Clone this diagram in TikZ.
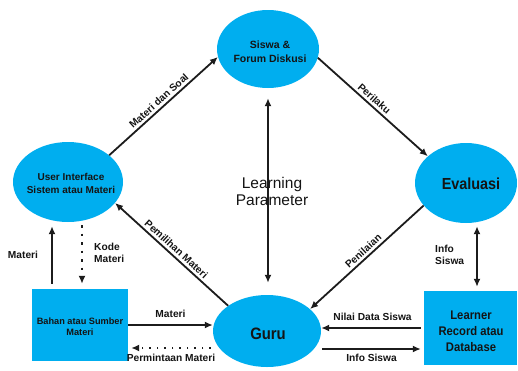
\documentclass[tikz,border=0pt]{standalone}
\usepackage{fontspec}
\setmainfont{Liberation Sans}
\newfontfamily\narf[FakeStretch=0.9]{Liberation Sans}
\usetikzlibrary{shapes.geometric,arrows.meta}
\definecolor{cy}{HTML}{00AEEF}
\definecolor{ln}{HTML}{1C1C1C}
\definecolor{tx}{HTML}{141414}
\tikzset{
  ell/.style={ellipse, fill=cy, inner sep=0pt},
  boxn/.style={rectangle, fill=cy, inner sep=0pt},
  ttl/.style={align=center, text=tx, inner sep=0pt},
  lab/.style={text=tx, font=\bfseries\fontsize{10.2}{12.5}\selectfont, inner sep=1.5pt},
  arr/.style={line width=1.8pt, draw=ln, -{Latex[length=8pt,width=7pt]}},
  darr/.style={line width=1.8pt, draw=ln, {Latex[length=8pt,width=7pt]}-{Latex[length=8pt,width=7pt]}},
  dsh/.style={arr, dash pattern=on 2.5pt off 6pt},
  dotl/.style={arr, dash pattern=on 1.5pt off 6pt},
}
\begin{document}
\begin{tikzpicture}[x=1pt,y=-1pt]
\useasboundingbox (0,0) rectangle (518,370);
% shapes
\node[ell, minimum width=102pt, minimum height=78pt] (siswa) at (268,49) {};
\node[ell, minimum width=110pt, minimum height=80pt] (ui) at (68,182) {};
\node[ell, minimum width=102pt, minimum height=80pt] (eval) at (466,183) {};
\node[ell, minimum width=108pt, minimum height=72pt] (guru) at (267,331) {};
\node[boxn, minimum width=96pt, minimum height=72pt] (bahan) at (80,325) {};
\node[boxn, minimum width=93pt, minimum height=74pt] (learner) at (470.5,328) {};
% texts
\node[ttl, font=\bfseries\fontsize{10.5}{14}\selectfont] (siswat) at (270,52) {Siswa \&\\Forum Diskusi};
\node[ttl, font=\bfseries\fontsize{10}{13}\selectfont] (uit) at (71,183) {User Interface\\Sistem atau Materi};
\node[ttl, font=\narf\bfseries\fontsize{16}{18}\selectfont] (evalt) at (471,184) {Evaluasi};
\node[ttl, font=\narf\bfseries\fontsize{16.5}{18}\selectfont] (gurut) at (268,334) {Guru};
\node[ttl, font=\bfseries\fontsize{9.2}{11}\selectfont] (bahant) at (80,327) {Bahan atau Sumber\\Materi};
\node[ttl, font=\narf\bfseries\fontsize{12.5}{16}\selectfont] (learnert) at (471,331) {Learner\\Record atau\\Database};
% connectors
\draw[arr] (ui.33) -- node[lab, sloped, above=1pt, pos=0.5] (l1) {Materi dan Soal} (siswa.189);
\draw[arr] (siswa.-10) -- node[lab, sloped, above=1pt, pos=0.47] (l2) {Perilaku} (eval.145);
\draw[arr] (guru.147) -- node[lab, sloped, above=1pt, pos=0.5] (l3) {Pemilihan Materi} (ui.-24);
\draw[arr] (eval.208) -- node[lab, sloped, above=1pt, pos=0.49] (l4) {Penilaian} (guru.27);
\draw[darr, shorten <=10pt, shorten >=12pt] (siswa.south) -- (siswa.south |- guru.north);
\node[ttl, font=\fontsize{15.5}{17}\selectfont, text=tx] (lp) at (272,191) {Learning\\Parameter};
\draw[arr, shorten >=4pt] ([xshift=-28pt,yshift=5pt]bahan.north) -- ([xshift=-28pt]bahan.north |- ui.south);
\node[lab] (l5) at (23,255) {Materi};
\draw[dsh, shorten <=3pt] ([xshift=14pt]ui.south) -- ([xshift=2pt,yshift=5pt]bahan.north);
\node[lab, align=left, anchor=west, inner sep=0pt] (l6) at (94,253) {Kode\\Materi};
\draw[arr] (bahan.east) -- node[lab, above=5pt] (l7) {Materi} (bahan.east -| guru.west);
\draw[dotl] ([xshift=-2pt,yshift=-17pt]guru.west) -- node[lab, below=4pt] (l8) {Permintaan Materi} ([xshift=3pt,yshift=-23pt]bahan.east);
\draw[arr, shorten <=3pt] (learner.west) -- node[lab, above=5pt] (l9) {Nilai Data Siswa} (learner.west -| guru.east);
\draw[arr] ([xshift=1pt,yshift=-18pt]guru.east) -- node[lab, below=3pt] (l10) {Info Siswa} ([xshift=-3pt,yshift=-21pt]learner.west);
\draw[darr, shorten <=3pt, shorten >=4pt] ([xshift=11pt]eval.south) -- ([xshift=11pt]eval.south |- learner.north);
\node[lab, align=left, anchor=west, inner sep=0pt] (l11) at (435,255) {Info\\Siswa};
\end{tikzpicture}
\end{document}
